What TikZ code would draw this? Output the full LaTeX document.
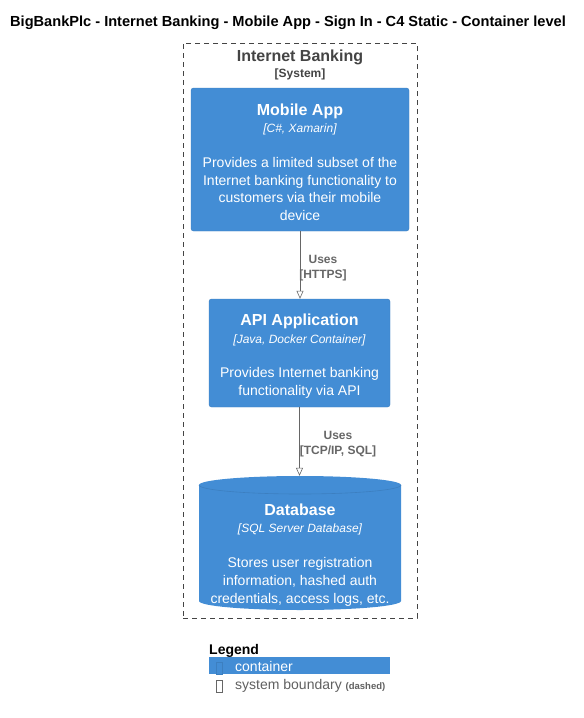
\documentclass[tikz,border=0pt]{standalone}
\usepackage{fontspec}
\setmainfont{Liberation Sans}
\usepackage{tikz}
\usetikzlibrary{arrows.meta, positioning, calc}
\definecolor{containercolor}{RGB}{67,141,213}
\definecolor{containerborder}{RGB}{60,127,192}
\definecolor{boundarycolor}{RGB}{68,68,68}
\definecolor{relcolor}{RGB}{102,102,102}
\begin{document}
\begin{tikzpicture}[
    x=1pt, y=-1pt,
    container/.style={draw=containerborder, fill=containercolor, rounded corners=2.5pt, inner sep=0pt},
    ctext/.style={inner sep=0pt, text=white, align=center, font=\fontsize{14}{17.7}\selectfont},
    boundary/.style={draw=boundarycolor, line width=0.8pt, dash pattern=on 5pt off 4pt, inner sep=0pt},
    rel/.style={draw=relcolor, line width=0.6pt, -{Triangle[open, length=8pt, width=7pt]}},
    rellabel/.style={text=relcolor, align=center, inner sep=0pt, font=\fontsize{12}{14.5}\selectfont\bfseries}
]
    \useasboundingbox (0,0) rectangle (584,718);
    \newcommand{\ctitle}[1]{{\fontsize{16}{18}\selectfont\bfseries #1}}
    \newcommand{\ctech}[1]{{\fontsize{12}{14}\selectfont\itshape #1}}

    % Title
    \node[font=\fontsize{14.6}{16}\selectfont\bfseries] (title) at (288,22.5) {BigBankPlc - Internet Banking - Mobile App - Sign In - C4 Static - Container level};

    % Internet Banking boundary
    \node[boundary, minimum width=234pt, minimum height=575pt] (ib) at (300,330.5) {};
    \node[text=boundarycolor, font=\fontsize{16}{18}\selectfont\bfseries] (ibname) at (300,57) {Internet Banking};
    \node[text=boundarycolor, font=\fontsize{12}{14}\selectfont\bfseries] (ibtype) at (300,74) {[System]};

    % Containers
    \node[container, minimum width=218pt, minimum height=143pt] (mobile) at (300,159.5) {};
    \node[ctext] (mobiletext) at ($(mobile)+(0,2.8)$)
        {\ctitle{Mobile App}\\[-0.2pt]\ctech{[C\#, Xamarin]}\\[16.8pt]Provides a limited subset of the\\Internet banking functionality to\\customers via their mobile\\device};
    \node[container, minimum width=181pt, minimum height=108pt] (api) at (299.5,353) {};
    \node[ctext] (apitext) at ($(api)+(0,3.5)$)
        {\ctitle{API Application}\\[-0.7pt]\ctech{[Java, Docker Container]}\\[17.3pt]Provides Internet banking\\functionality via API};

    % Database (cylinder)
    \fill[containercolor] (199,485) -- (199,601) arc[start angle=180, end angle=360, x radius=101pt, y radius=9pt]
        -- (401,485) arc[start angle=0, end angle=180, x radius=101pt, y radius=9pt] -- cycle;
    \draw[containerborder, line width=0.6pt] (199,485) arc[start angle=180, end angle=360, x radius=101pt, y radius=9pt];
    \node[inner sep=0pt, minimum width=202pt, minimum height=134pt] (db) at (300,543) {};
    \node[ctext] (dbtext) at ($(db)+(0,12)$)
        {\ctitle{Database}\\[-0.7pt]\ctech{[SQL Server Database]}\\[17.3pt]Stores user registration\\information, hashed auth\\credentials, access logs, etc.};

    % Relations
    \draw[rel] (mobile.south) -- (mobile.south |- api.north);
    \node[rellabel] (rel1) at (323,268) {Uses\\{}[HTTPS]};
    \draw[rel] (api.south) -- (api.south |- db.north);
    \node[rellabel] (rel2) at (338,444) {Uses\\{}[TCP/IP, SQL]};

    % Legend
    \node[anchor=base west, inner sep=0pt, font=\fontsize{14}{16}\selectfont\bfseries] (legend) at (209,654) {Legend};
    \node[fill=containercolor, minimum width=181pt, minimum height=17pt, inner sep=0pt] (lgcont) at (299.5,665.5) {};
    \node[draw=containerborder, line width=0.6pt, minimum width=6pt, minimum height=12pt, inner sep=0pt] (lgcontbox) at (219,668) {};
    \node[anchor=base west, inner sep=0pt, text=white, font=\fontsize{14}{16}\selectfont] (lgconttext) at (235,671) {container};
    \node[draw=relcolor, line width=0.6pt, minimum width=6pt, minimum height=12pt, inner sep=0pt] (lgbndbox) at (219,686) {};
    \node[anchor=base west, inner sep=0pt, text=boundarycolor!85, font=\fontsize{14}{16}\selectfont] (lgbndtext) at (235,689)
        {system boundary {\fontsize{9.5}{10}\selectfont\bfseries (dashed)}};
\end{tikzpicture}
\end{document}
